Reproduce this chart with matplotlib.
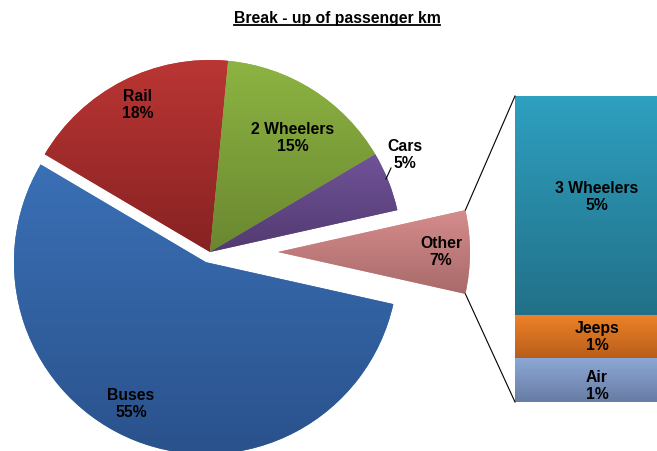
import numpy as np
import matplotlib
matplotlib.use("Agg")
import matplotlib.pyplot as plt
from matplotlib.colors import to_rgb

plt.rcParams['font.family'] = ['Liberation Sans', 'DejaVu Sans']

# main pie, clockwise from the Rail/Buses boundary
labels = ["Rail", "2 Wheelers", "Cars", "Other", "Buses"]
values = [18, 15, 5, 7, 55]
explode = [0, 0, 0, 68, 11]   # in pixel units (axes are in pixels)
pie_top = ["#ba3634", "#8db442", "#705398", "#d68c8c", "#3a70b6"]
pie_bot = ["#872222", "#6a8730", "#523a70", "#a86a6a", "#2a528c"]

# break-down of "Other", bottom to top
sub_labels = ["Air", "Jeeps", "3 Wheelers"]
sub_values = [1, 1, 5]
bar_top = ["#8ca8d6", "#ee8228", "#2ea0c0"]
bar_bot = ["#687ca4", "#b85e1a", "#227088"]

W, H = 657, 452
fig = plt.figure(figsize=(W / 100, H / 100), dpi=100)
ax = fig.add_axes([0, 0, 1, 1])

wedges, _ = ax.pie(values, radius=192, center=(210, H - 253), explode=explode,
                   startangle=149.4, counterclock=False, colors=pie_top,
                   wedgeprops=dict(linewidth=0))

# bar of the "Other" slice
scale = 306 / sum(sub_values)
bottoms = np.concatenate([[0], np.cumsum(sub_values)[:-1]]) * scale + (H - 403)
bars = ax.bar(515, np.array(sub_values) * scale, width=164, bottom=bottoms,
              align="edge", color=bar_top, linewidth=0)

ax.set_xlim(0, W)
ax.set_ylim(0, H)
ax.set_aspect("auto")
ax.axis("off")


def gradient(patch, c1, c2):
    bb = patch.get_extents().transformed(ax.transData.inverted())
    t = np.linspace(0, 1, 256)[:, None]
    img = (1 - t) * np.array(to_rgb(c1)) + t * np.array(to_rgb(c2))
    im = ax.imshow(img[:, None, :], extent=(bb.x0, bb.x1, bb.y0, bb.y1),
                   origin="upper", aspect="auto", zorder=patch.get_zorder() + 0.1,
                   interpolation="bilinear")
    im.set_clip_path(patch)


for p, c1, c2 in zip(wedges, pie_top, pie_bot):
    gradient(p, c1, c2)
for p, c1, c2 in zip(bars.patches, bar_top, bar_bot):
    gradient(p, c1, c2)
ax.set_xlim(0, W)
ax.set_ylim(0, H)

# connector lines from "Other" wedge to the bar
ow = wedges[labels.index("Other")]
cx, cy = ow.center
for ang, by in [(ow.theta2, bars.patches[-1].get_y() + bars.patches[-1].get_height()),
                (ow.theta1, bars.patches[0].get_y())]:
    x0 = cx + ow.r * np.cos(np.radians(ang))
    y0 = cy + ow.r * np.sin(np.radians(ang))
    ax.plot([x0, 515], [y0, by], color="black", lw=0.8, zorder=5)

# labels
fs = 11.3
txt = dict(ha="center", va="center", fontsize=fs, fontweight="bold",
           linespacing=1.15, zorder=6)
label_pos = {"Rail": (138, 105), "2 Wheelers": (293, 138), "Cars": (405, 155),
             "Other": (441, 252), "Buses": (131, 404)}
for lab, v in zip(labels, values):
    x, y = label_pos[lab]
    ax.text(x, H - y, f"{lab}\n{v}%", **txt)
ax.plot([386, 391], [H - 180, H - 169], color="black", lw=0.8, zorder=6)

sub_pos = {"3 Wheelers": 197, "Jeeps": 337, "Air": 386}
for lab, v in zip(sub_labels, sub_values):
    ax.text(597, H - sub_pos[lab], f"{lab}\n{v}%", **txt)

title = fig.text(337 / W, 1 - 18 / H, "Break - up of passenger km", ha="center",
                 va="center", fontsize=11.3, fontweight="bold")
fig.canvas.draw()
bb = title.get_window_extent()
yl = (bb.y0 - 0.5) / H
fig.add_artist(plt.Line2D([bb.x0 / W, bb.x1 / W], [yl, yl], color="black", lw=1.3))

fig.savefig("out.png", dpi=100)
